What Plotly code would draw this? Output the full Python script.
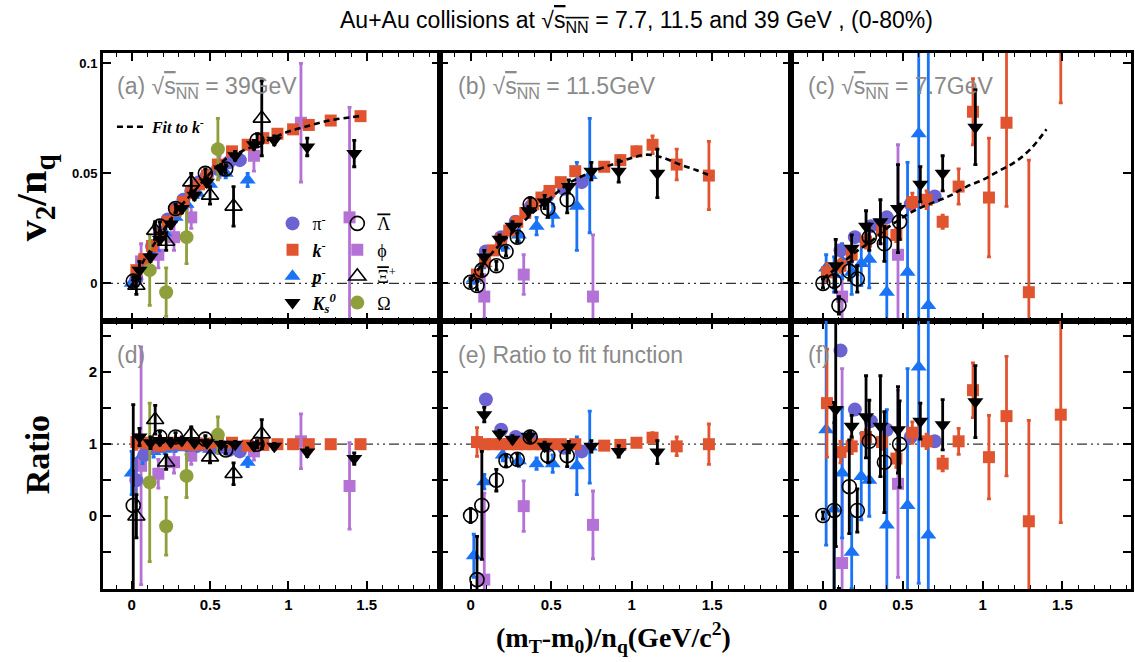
import plotly.graph_objects as go

# ---------------- 39 GeV : panels (a) and (d) ----------------
pim39_x = [0.03, 0.08, 0.13, 0.18, 0.23, 0.28, 0.33, 0.38, 0.43, 0.48, 0.55, 0.62, 0.69]
pim39_v = [0.002, 0.010, 0.017, 0.023, 0.029, 0.034, 0.038, 0.042, 0.046, 0.049, 0.052, 0.055, 0.056]
pim39_ve = [0.001, 0.001, 0.001, 0.001, 0.001, 0.001, 0.001, 0.001, 0.001, 0.001, 0.001, 0.001, 0.001]
pim39_r = [0.5, 0.85, 0.95, 0.97, 1.0, 1.0, 1.0, 0.99, 0.99, 0.98, 0.95, 0.92, 0.9]
pim39_re = [0.3, 0.05, 0.04, 0.03, 0.03, 0.03, 0.03, 0.03, 0.03, 0.03, 0.03, 0.03, 0.03]

km39_x = [0.03, 0.08, 0.13, 0.18, 0.23, 0.28, 0.33, 0.38, 0.43, 0.48, 0.55, 0.64, 0.74, 0.84, 0.93, 1.03, 1.13, 1.27, 1.46]
km39_v = [0.006, 0.011, 0.017, 0.022, 0.028, 0.033, 0.037, 0.041, 0.045, 0.049, 0.054, 0.060, 0.063, 0.066, 0.068, 0.070, 0.072, 0.074, 0.076]
km39_ve = [0.001, 0.001, 0.001, 0.001, 0.001, 0.001, 0.001, 0.001, 0.001, 0.001, 0.001, 0.001, 0.001, 0.001, 0.001, 0.001, 0.001, 0.001, 0.001]
km39_r = [1.03, 1.02, 1.0, 0.98, 1.0, 1.02, 1.0, 0.99, 1.0, 1.01, 1.03, 1.02, 0.98, 0.99, 1.0, 1.0, 1.0, 1.0, 1.0]
km39_re = [0.1, 0.05, 0.04, 0.03, 0.03, 0.03, 0.03, 0.03, 0.03, 0.03, 0.03, 0.03, 0.03, 0.03, 0.03, 0.03, 0.03, 0.03, 0.03]

pm39_x = [0.0, 0.07, 0.14, 0.21, 0.28, 0.35, 0.42, 0.5, 0.6, 0.74]
pm39_v = [0.0, 0.008, 0.016, 0.023, 0.030, 0.036, 0.041, 0.045, 0.050, 0.047]
pm39_ve = [0.002, 0.002, 0.002, 0.002, 0.002, 0.002, 0.002, 0.002, 0.002, 0.003]
pm39_r = [0.6, 0.85, 0.9, 0.93, 0.95, 0.96, 0.95, 0.93, 0.92, 0.75]
pm39_re = [0.3, 0.12, 0.08, 0.06, 0.05, 0.05, 0.05, 0.05, 0.05, 0.06]

k0s39_x = [0.05, 0.12, 0.18, 0.25, 0.32, 0.40, 0.48, 0.57, 0.66, 0.78, 0.91, 1.12, 1.42]
k0s39_v = [0.006, 0.012, 0.020, 0.027, 0.034, 0.040, 0.046, 0.052, 0.058, 0.063, 0.065, 0.062, 0.059]
k0s39_ve = [0.004, 0.002, 0.002, 0.002, 0.002, 0.002, 0.002, 0.002, 0.002, 0.002, 0.002, 0.004, 0.006]
k0s39_r = [1.1, 1.02, 1.05, 1.03, 1.05, 1.02, 1.02, 1.0, 1.0, 0.98, 0.97, 0.89, 0.8]
k0s39_re = [0.12, 0.08, 0.06, 0.05, 0.05, 0.04, 0.04, 0.04, 0.04, 0.04, 0.04, 0.06, 0.08]

lam39_x = [0.01, 0.18, 0.28, 0.47, 0.60, 0.80]
lam39_v = [0.001, 0.026, 0.034, 0.050, 0.052, 0.065]
lam39_ve = [0.002, 0.002, 0.002, 0.002, 0.002, 0.003]
lam39_r = [0.15, 1.1, 1.1, 1.07, 0.92, 1.0]
lam39_re = [1.4, 0.08, 0.06, 0.05, 0.05, 0.05]

phi39_x = [0.06, 0.17, 0.27, 0.38, 0.56, 0.78, 1.08, 1.39]
phi39_v = [0.010, 0.013, 0.021, 0.030, 0.053, 0.058, 0.073, 0.030]
phi39_ve = [0.008, 0.006, 0.006, 0.005, 0.005, 0.007, 0.027, 0.05]
phi39_r = [0.7, 0.59, 0.75, 0.84, 0.97, 0.9, 1.04, 0.42]
phi39_re = [1.65, 0.2, 0.15, 0.12, 0.1, 0.12, 0.38, 0.6]

xi39_x = [0.03, 0.15, 0.22, 0.38, 0.50, 0.65, 0.83]
xi39_v = [-0.001, 0.024, 0.019, 0.046, 0.040, 0.035, 0.075]
xi39_ve = [0.004, 0.004, 0.004, 0.004, 0.004, 0.009, 0.017]
xi39_r = [0.0, 1.34, 0.75, 1.14, 0.82, 0.59, 1.14]
xi39_re = [0.3, 0.2, 0.1, 0.1, 0.08, 0.15, 0.2]

om39_x = [0.115, 0.22, 0.35, 0.55]
om39_v = [0.006, -0.004, 0.021, 0.061]
om39_ve = [0.016, 0.011, 0.012, 0.014]
om39_r = [0.47, -0.14, 0.56, 1.13]
om39_re = [1.1, 0.4, 0.3, 0.25]

fit39_x = [0.0, 0.1, 0.2, 0.3, 0.4, 0.5, 0.6, 0.7, 0.8, 0.9, 1.0, 1.1, 1.2, 1.3, 1.4, 1.47]
fit39_v = [0.001, 0.013, 0.024, 0.034, 0.042, 0.050, 0.0565, 0.060, 0.063, 0.066, 0.069, 0.071, 0.073, 0.0745, 0.0755, 0.0762]

# ---------------- 11.5 GeV : panels (b) and (e) ----------------
pim11_x = [0.095, 0.19, 0.28, 0.375, 0.48, 0.58, 0.69]
pim11_v = [0.0145, 0.021, 0.028, 0.035, 0.040, 0.043, 0.046]
pim11_ve = [0.001, 0.001, 0.001, 0.001, 0.001, 0.001, 0.001]
pim11_r = [1.62, 1.2, 1.1, 1.08, 0.98, 0.95, 0.9]
pim11_re = [0.05, 0.04, 0.03, 0.03, 0.03, 0.03, 0.03]

km11_x = [0.04, 0.09, 0.14, 0.19, 0.24, 0.29, 0.34, 0.39, 0.44, 0.49, 0.56, 0.65, 0.83, 0.93, 1.03, 1.13, 1.28, 1.48]
km11_v = [0.004, 0.010, 0.015, 0.020, 0.024, 0.028, 0.032, 0.036, 0.039, 0.042, 0.046, 0.051, 0.053, 0.056, 0.060, 0.063, 0.054, 0.049]
km11_ve = [0.002, 0.001, 0.001, 0.001, 0.001, 0.001, 0.001, 0.001, 0.001, 0.001, 0.001, 0.001, 0.001, 0.002, 0.002, 0.004, 0.007, 0.0155]
km11_r = [1.03, 1.0, 1.0, 1.0, 1.0, 1.0, 1.0, 1.0, 1.0, 1.0, 1.0, 1.0, 0.98, 0.99, 1.02, 1.09, 0.97, 1.0]
km11_re = [0.2, 0.05, 0.04, 0.03, 0.03, 0.03, 0.03, 0.03, 0.03, 0.03, 0.03, 0.03, 0.03, 0.03, 0.04, 0.07, 0.13, 0.28]

pm11_x = [0.02, 0.085, 0.2, 0.3, 0.41, 0.51, 0.66, 0.74]
pm11_v = [0.002, 0.009, 0.017, 0.022, 0.026, 0.031, 0.035, 0.049]
pm11_ve = [0.002, 0.002, 0.002, 0.003, 0.004, 0.005, 0.020, 0.026]
pm11_r = [-0.55, 0.48, 0.85, 0.77, 0.73, 0.73, 0.7, 0.96]
pm11_re = [0.3, 0.1, 0.08, 0.08, 0.08, 0.12, 0.4, 0.5]

k0s11_x = [0.085, 0.18, 0.26, 0.36, 0.46, 0.61, 0.75, 0.92, 1.16]
k0s11_v = [0.012, 0.020, 0.026, 0.033, 0.037, 0.044, 0.051, 0.051, 0.050]
k0s11_ve = [0.003, 0.002, 0.002, 0.002, 0.003, 0.003, 0.004, 0.005, 0.011]
k0s11_r = [1.41, 1.14, 1.07, 1.11, 0.97, 0.96, 0.97, 0.9, 0.89]
k0s11_re = [0.1, 0.05, 0.05, 0.05, 0.06, 0.08, 0.08, 0.08, 0.16]

lam11_x = [0.0, 0.04, 0.07, 0.16, 0.22, 0.29, 0.37, 0.48, 0.6]
lam11_v = [0.0005, -0.001, 0.006, 0.008, 0.0145, 0.021, 0.036, 0.034, 0.038]
lam11_ve = [0.002, 0.002, 0.002, 0.002, 0.002, 0.002, 0.003, 0.004, 0.006]
lam11_r = [0.01, -0.88, 0.15, 0.5, 0.77, 0.79, 1.1, 0.84, 0.84]
lam11_re = [0.1, 0.6, 0.75, 0.15, 0.08, 0.08, 0.08, 0.1, 0.15]

phi11_x = [0.085, 0.33, 0.76]
phi11_v = [-0.006, 0.004, -0.006]
phi11_ve = [0.010, 0.009, 0.028]
phi11_r = [-0.88, 0.14, -0.12]
phi11_re = [1.2, 0.35, 0.47]

fit11_x = [0.0, 0.1, 0.2, 0.3, 0.4, 0.5, 0.6, 0.7, 0.8, 0.9, 1.0, 1.1, 1.2, 1.3, 1.4, 1.5]
fit11_v = [0.002, 0.011, 0.019, 0.026, 0.033, 0.039, 0.045, 0.049, 0.052, 0.0545, 0.057, 0.0585, 0.057, 0.054, 0.0515, 0.0486]

# ---------------- 7.7 GeV : panels (c) and (f) ----------------
pim7_x = [0.11, 0.20, 0.30, 0.40, 0.55, 0.70]
pim7_v = [0.015, 0.021, 0.026, 0.030, 0.036, 0.0395]
pim7_ve = [0.001, 0.001, 0.001, 0.001, 0.001, 0.001]
pim7_r = [2.3, 1.48, 1.32, 1.2, 1.1, 1.04]
pim7_re = [0.05, 0.04, 0.04, 0.04, 0.04, 0.04]

km7_x = [0.025, 0.11, 0.18, 0.27, 0.37, 0.46, 0.56, 0.65, 0.75, 0.85, 0.94, 1.04, 1.15, 1.29, 1.49]
km7_v = [0.005, 0.008, 0.013, 0.019, 0.024, 0.022, 0.037, 0.038, 0.028, 0.044, 0.078, 0.039, 0.073, -0.004, 0.112]
km7_ve = [0.004, 0.003, 0.003, 0.003, 0.003, 0.003, 0.004, 0.004, 0.003, 0.008, 0.015, 0.027, 0.038, 0.06, 0.03]
km7_r = [1.57, 0.89, 0.97, 1.1, 1.03, 0.8, 1.16, 1.04, 0.73, 1.04, 1.75, 0.82, 1.39, -0.07, 1.41]
km7_re = [0.75, 0.15, 0.1, 0.1, 0.1, 0.12, 0.15, 0.1, 0.1, 0.18, 0.38, 0.58, 0.83, 1.4, 1.5]

pm7_x = [0.02, 0.07, 0.12, 0.18, 0.24, 0.29, 0.40, 0.53, 0.60, 0.66]
pm7_v = [0.007, 0.004, 0.010, 0.005, 0.009, 0.011, -0.004, 0.005, 0.068, -0.010]
pm7_ve = [0.006, 0.008, 0.008, 0.010, 0.010, 0.013, 0.03, 0.05, 0.09, 0.12]
pm7_r = [1.2, 0.1, 0.6, -0.5, 0.55, 0.5, -0.12, 0.15, 2.07, -0.26]
pm7_re = [1.6, 1.2, 0.9, 0.5, 0.6, 0.5, 1.6, 1.9, 3.0, 3.5]

k0s7_x = [0.08, 0.18, 0.27, 0.36, 0.47, 0.61, 0.75, 0.955]
k0s7_v = [0.008, 0.016, 0.026, 0.028, 0.034, 0.045, 0.050, 0.071]
k0s7_ve = [0.012, 0.006, 0.007, 0.01, 0.02, 0.008, 0.008, 0.017]
k0s7_r = [1.48, 1.25, 1.38, 1.25, 1.2, 1.32, 1.27, 1.59]
k0s7_re = [1.9, 0.15, 0.57, 0.7, 0.6, 0.25, 0.35, 0.5]

lam7_x = [0.0, 0.07, 0.10, 0.165, 0.215, 0.29, 0.385, 0.48]
lam7_v = [0.0, 0.001, -0.010, 0.0055, 0.002, 0.021, 0.018, 0.028]
lam7_ve = [0.002, 0.003, 0.004, 0.004, 0.006, 0.006, 0.008, 0.008]
lam7_r = [0.01, 0.08, -1.5, 0.41, 0.08, 1.04, 0.75, 1.0]
lam7_re = [0.05, 1.5, 0.5, 0.65, 0.3, 0.57, 0.7, 0.6]

phi7_x = [0.12, 0.47]
phi7_v = [-0.006, 0.013]
phi7_ve = [0.012, 0.05]
phi7_r = [-0.65, 0.45]
phi7_re = [2.7, 1.3]

fit7_x = [0.0, 0.1, 0.2, 0.3, 0.4, 0.5, 0.6, 0.7, 0.8, 0.9, 1.0, 1.1, 1.2, 1.3, 1.4]
fit7_v = [0.002, 0.008, 0.014, 0.019, 0.025, 0.030, 0.034, 0.037, 0.040, 0.044, 0.047, 0.051, 0.055, 0.061, 0.070]

# ---------------- styles ----------------
OL = "<span style='text-decoration:overline'>"
STY = {
    "pim": dict(symbol="circle", color="#6c63d2", size=14, lw=0, name="π<sup>-</sup>", legend="legend", rank=1),
    "km": dict(symbol="square", color="#e0552f", size=12, lw=0, name="<b><i>k</i></b><sup>-</sup>", legend="legend", rank=2),
    "pm": dict(symbol="triangle-up", color="#1a73f5", size=14, lw=0, name="<b><i>p</i></b><sup>-</sup>", legend="legend", rank=3),
    "k0s": dict(symbol="triangle-down", color="#000000", size=14, lw=0, name="<b><i>K<sub>s</sub><sup>0</sup></i></b>", legend="legend", rank=4),
    "lam": dict(symbol="circle-open", color="#000000", size=14, lw=1.6, name=OL + "Λ</span>", legend="legend2", rank=5),
    "phi": dict(symbol="square", color="#b572d6", size=12, lw=0, name="ϕ", legend="legend2", rank=6),
    "xi": dict(symbol="triangle-up-open", color="#000000", size=15, lw=1.6, name=OL + "Ξ</span><sup>+</sup>", legend="legend2", rank=7),
    "om": dict(symbol="circle", color="#8f9f3c", size=14, lw=0, name="Ω", legend="legend2", rank=8),
}

panels = [
    [("phi", phi39_x, phi39_v, phi39_ve, phi39_r, phi39_re),
     ("pm", pm39_x, pm39_v, pm39_ve, pm39_r, pm39_re),
     ("pim", pim39_x, pim39_v, pim39_ve, pim39_r, pim39_re),
     ("km", km39_x, km39_v, km39_ve, km39_r, km39_re),
     ("om", om39_x, om39_v, om39_ve, om39_r, om39_re),
     ("xi", xi39_x, xi39_v, xi39_ve, xi39_r, xi39_re),
     ("lam", lam39_x, lam39_v, lam39_ve, lam39_r, lam39_re),
     ("k0s", k0s39_x, k0s39_v, k0s39_ve, k0s39_r, k0s39_re)],
    [("phi", phi11_x, phi11_v, phi11_ve, phi11_r, phi11_re),
     ("pm", pm11_x, pm11_v, pm11_ve, pm11_r, pm11_re),
     ("pim", pim11_x, pim11_v, pim11_ve, pim11_r, pim11_re),
     ("km", km11_x, km11_v, km11_ve, km11_r, km11_re),
     ("lam", lam11_x, lam11_v, lam11_ve, lam11_r, lam11_re),
     ("k0s", k0s11_x, k0s11_v, k0s11_ve, k0s11_r, k0s11_re)],
    [("phi", phi7_x, phi7_v, phi7_ve, phi7_r, phi7_re),
     ("pm", pm7_x, pm7_v, pm7_ve, pm7_r, pm7_re),
     ("pim", pim7_x, pim7_v, pim7_ve, pim7_r, pim7_re),
     ("km", km7_x, km7_v, km7_ve, km7_r, km7_re),
     ("lam", lam7_x, lam7_v, lam7_ve, lam7_r, lam7_re),
     ("k0s", k0s7_x, k0s7_v, k0s7_ve, k0s7_r, k0s7_re)],
]
fits = [(fit39_x, fit39_v), (fit11_x, fit11_v), (fit7_x, fit7_v)]

fig = go.Figure()


def ax(k):
    return ("x" if k == 1 else f"x{k}"), ("y" if k == 1 else f"y{k}")


for col, series in enumerate(panels):
    for key, x, v, ve, r, re in series:
        s = STY[key]
        for row, y, e in ((0, v, ve), (1, r, re)):
            xa, ya = ax(col + 1 + 3 * row)
            fig.add_trace(go.Scatter(
                x=x, y=y, mode="markers", xaxis=xa, yaxis=ya,
                name=s["name"], legend=s["legend"], legendrank=s["rank"],
                showlegend=(col == 0 and row == 0),
                marker=dict(symbol=s["symbol"], size=s["size"], color=s["color"],
                            line=dict(width=s["lw"], color=s["color"])),
                error_y=dict(type="data", array=e, visible=True, color=s["color"],
                             thickness=2.8, width=2),
            ))
    fx, fv = fits[col]
    xa, ya = ax(col + 1)
    fig.add_trace(go.Scatter(
        x=fx, y=fv, mode="lines", xaxis=xa, yaxis=ya, line_shape="spline",
        line=dict(color="black", width=2.6, dash="6px,4px"),
        name="<b><i>Fit to k<sup>-</sup></i></b>", legend="legend3",
        showlegend=(col == 0),
    ))

# ---------------- axes ----------------
xdom = [[0.0, 0.3278], [0.3278, 0.6693], [0.6693, 1.0]]
xrng = [[-0.183, 1.967], [-0.19, 1.99], [-0.2, 1.93]]
xminor = [-0.1, 0.1, 0.2, 0.3, 0.4, 0.6, 0.7, 0.8, 0.9, 1.1, 1.2, 1.3, 1.4, 1.6, 1.7, 1.8, 1.9]
tickfont = dict(family="Liberation Sans", size=15, color="black", weight="bold")
layout = {}
for row in range(2):
    for col in range(3):
        k = col + 1 + 3 * row
        xn = "xaxis" if k == 1 else f"xaxis{k}"
        yn = "yaxis" if k == 1 else f"yaxis{k}"
        xa, ya = ax(k)
        layout[xn] = dict(
            domain=xdom[col], range=xrng[col], anchor=ya,
            tickmode="array", tickvals=[0, 0.5, 1, 1.5], ticktext=["0", "0.5", "1", "1.5"],
            ticks="inside", ticklen=8, tickwidth=1.5, tickcolor="black",
            minor=dict(tickmode="array", tickvals=xminor, ticks="inside", ticklen=4,
                       tickwidth=1.2, tickcolor="black"),
            showline=True, linewidth=3, linecolor="black", mirror="allticks",
            showgrid=False, zeroline=False, showticklabels=(row == 1), tickfont=tickfont,
        )
        if row == 0:
            yd = dict(domain=[0.5, 1.0], range=[-0.0171, 0.1047],
                      tickmode="array", tickvals=[0, 0.05, 0.1], ticktext=["0", "0.05", "0.1"])
        else:
            yd = dict(domain=[0.0, 0.5], range=[-1.01, 2.71],
                      tickmode="array", tickvals=[0, 1, 2], ticktext=["0", "1", "2"],
                      minor=dict(tickmode="array", tickvals=[-0.5, 0.5, 1.5, 2.5], ticks="inside",
                                 ticklen=8, tickwidth=1.5, tickcolor="black"))
        yd.update(anchor=xa, ticks="inside", ticklen=8, tickwidth=1.5, tickcolor="black",
                  showline=True, linewidth=3, linecolor="black", mirror="allticks",
                  showgrid=False, zeroline=False, showticklabels=(col == 0),
                  tickfont=dict(family="Liberation Sans", size=13 if row == 0 else 15,
                                color="black", weight="bold"))
        layout[yn] = yd

# reference lines (0 in upper panels, 1 in ratio panels)
shapes = []
for row in range(2):
    for col in range(3):
        k = col + 1 + 3 * row
        xa, ya = ax(k)
        yv = 0 if row == 0 else 1
        shapes.append(dict(type="line", xref=f"{xa} domain", yref=ya, x0=0, x1=1, y0=yv, y1=yv,
                           line=dict(color="#333333", width=1.2, dash="10px,4px,2px,4px,2px,4px"),
                           layer="below"))

SQ = "√" + OL + "s<sub>NN</sub></span>"
lab_font = dict(family="Liberation Sans", size=23, color="#8a8a8a")
labels = [("(a) " + SQ + " = 39GeV", 1, 0.036), ("(b) " + SQ + " = 11.5GeV", 2, 0.045),
          ("(c) " + SQ + " = 7.7GeV", 3, 0.044), ("(d)", 4, 0.036),
          ("(e) Ratio to fit function", 5, 0.045), ("(f)", 6, 0.044)]
annotations = []
for txt, k, xp in labels:
    xa, ya = ax(k)
    annotations.append(dict(text=txt, xref=f"{xa} domain", yref=f"{ya} domain", x=xp, y=0.873,
                            xanchor="left", yanchor="middle", showarrow=False, font=lab_font))

annotations += [
    dict(text="Au+Au collisions at " + SQ + " = 7.7, 11.5 and 39 GeV , (0-80%)",
         xref="paper", yref="paper", x=0.519, y=1.058, xanchor="center", yanchor="middle",
         showarrow=False, font=dict(family="Liberation Sans", size=23, color="black")),
    dict(text="<b>v<sub>2</sub>/n<sub>q</sub></b>", xref="paper", yref="paper", x=-0.066, y=0.731,
         textangle=-90, xanchor="center", yanchor="middle", showarrow=False,
         font=dict(family="Liberation Serif", size=42, color="black")),
    dict(text="<b>Ratio</b>", xref="paper", yref="paper", x=-0.064, y=0.25,
         textangle=-90, xanchor="center", yanchor="middle", showarrow=False,
         font=dict(family="Liberation Serif", size=34, color="black")),
    dict(text="<b>(m<sub>T</sub>-m<sub>0</sub>)/n<sub>q</sub>(GeV/c<sup>2</sup>)</b>",
         xref="paper", yref="paper", x=0.4966, y=-0.0896, xanchor="center", yanchor="middle",
         showarrow=False, font=dict(family="Liberation Serif", size=28, color="black")),
]

leg_font = dict(family="Liberation Serif", size=18, color="black")
fig.update_layout(
    width=1135, height=662, margin=dict(l=103, r=1, t=53, b=73),
    paper_bgcolor="white", plot_bgcolor="white", showlegend=True,
    shapes=shapes, annotations=annotations,
    legend=dict(x=0.1649, y=0.716, xanchor="left", yanchor="top", bgcolor="rgba(0,0,0,0)",
                font=leg_font, tracegroupgap=3),
    legend2=dict(x=0.2279, y=0.716, xanchor="left", yanchor="top", bgcolor="rgba(0,0,0,0)",
                 font=leg_font, tracegroupgap=3),
    legend3=dict(x=0.0087, y=0.894, xanchor="left", yanchor="top", bgcolor="rgba(0,0,0,0)",
                 font=dict(family="Liberation Serif", size=16, color="black")),
    **layout,
)

fig.write_html("out.html")
